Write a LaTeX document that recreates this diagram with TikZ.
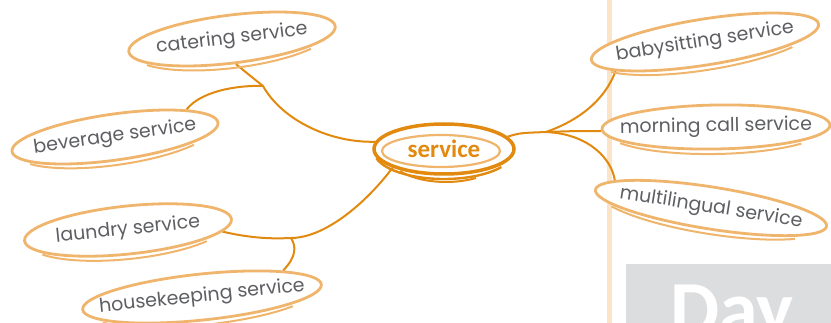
\documentclass[tikz,border=0pt]{standalone}
\usepackage{fontspec}
\setmainfont{Poppins}
\newfontfamily\carl{Carlito}
\usetikzlibrary{shapes.geometric,backgrounds}
\definecolor{conn}{HTML}{E2890F}
\definecolor{light}{HTML}{F0B56C}
\definecolor{txt}{HTML}{5E5F63}
\definecolor{vline}{HTML}{FBE4C8}
\definecolor{dayg}{HTML}{DCDDDF}
\newcommand{\zb}[1]{\makebox[0pt]{#1}}
\begin{document}
\begin{tikzpicture}[x=1pt,y=-1pt,
  leaf/.style={ellipse, draw=light, line width=2.8pt, fill=white, inner sep=0pt, text=txt, font=\fontsize{19}{19}\selectfont},
  sk/.style={draw=light, line width=2pt},
  link/.style={draw=conn, line width=2pt}]
\useasboundingbox (0,0) rectangle (831,323);
% junctions
\coordinate (j1) at (263,86);
\coordinate (j2) at (291,238);
\coordinate (j3) at (546,132);
% centre
\node[ellipse, draw=conn, line width=3.5pt, minimum width=140, minimum height=50, fill=white, inner sep=0pt,
  text=conn, font=\carl\bfseries\fontsize{25}{25}\selectfont] (service) at (444,149) {\zb{\raisebox{-3pt}{service}}};
\draw[light, line width=2.2pt] (441,151) ellipse (59 and 16);
\draw[conn, line width=2.4pt, shift={(444,151)}] (165:70 and 28) arc (165:35:70 and 28);
\draw[conn, line width=2pt, shift={(446,152)}] (140:60 and 30) arc (140:60:60 and 30);
% leaves
\node[leaf, minimum width=208, minimum height=48, rotate=7] (catering) at (232,39) {\zb{catering service}};
\draw[sk, shift={(232,41)}, rotate=7] (150:101 and 27) arc (150:40:101 and 27);
\node[leaf, minimum width=208, minimum height=46, rotate=8] (beverage) at (115,137) {\zb{beverage service}};
\draw[sk, shift={(115,139)}, rotate=8] (150:101 and 26) arc (150:40:101 and 26);
\node[leaf, minimum width=208, minimum height=48, rotate=6] (laundry) at (128,230) {\zb{laundry service}};
\draw[sk, shift={(128,232)}, rotate=6] (150:101 and 27) arc (150:40:101 and 27);
\node[leaf, minimum width=240, minimum height=46, rotate=6] (housekeeping) at (202,297) {\zb{housekeeping service}};
\draw[sk, shift={(202,299)}, rotate=6] (150:117 and 26) arc (150:40:117 and 26);
\node[leaf, minimum width=230, minimum height=46, rotate=9] (babysitting) at (705,42) {\zb{babysitting service}};
\draw[sk, shift={(705,44)}, rotate=9] (150:112 and 26) arc (150:40:112 and 26);
\node[leaf, minimum width=228, minimum height=44, rotate=1] (morning) at (716,127) {\zb{morning call service}};
\draw[sk, shift={(716,129)}, rotate=1] (150:111 and 25) arc (150:40:111 and 25);
\node[leaf, minimum width=234, minimum height=42, rotate=-9] (multilingual) at (711,208) {\zb{multilingual service}};
\draw[sk, shift={(711,210)}, rotate=-9] (150:114 and 24) arc (150:40:114 and 24);
% background and connectors
\begin{scope}[on background layer]
\fill[vline] (606.5,0) rectangle (611.5,323);
\fill[dayg] (626,264) rectangle (831,323);
\node[anchor=base west, text=white, font=\carl\bfseries\fontsize{78}{78}\selectfont, inner sep=0pt] (day) at (670,336) {Day};
\draw[link] (catering.-88) .. controls (248,74) .. (j1) .. controls (282,120) and (330,143) .. (service.174);
\draw[link] (beverage.13) .. controls (200,92) and (235,85) .. (j1);
\draw[link] (laundry.-7) .. controls (250,238) and (270,239) .. (j2) .. controls (322,238) and (362,208) .. (service.200);
\draw[link] (housekeeping.12) .. controls (297,256) and (296,246) .. (j2);
\draw[link] (service.11) .. controls (520,133) .. (j3);
\draw[link] (j3) .. controls (577,121) and (604,102) .. (babysitting.189);
\draw[link] (j3) .. controls (575,131) .. (morning.181);
\draw[link] (j3) .. controls (590,134) and (612,160) .. (multilingual.173);
\end{scope}
\end{tikzpicture}
\end{document}
